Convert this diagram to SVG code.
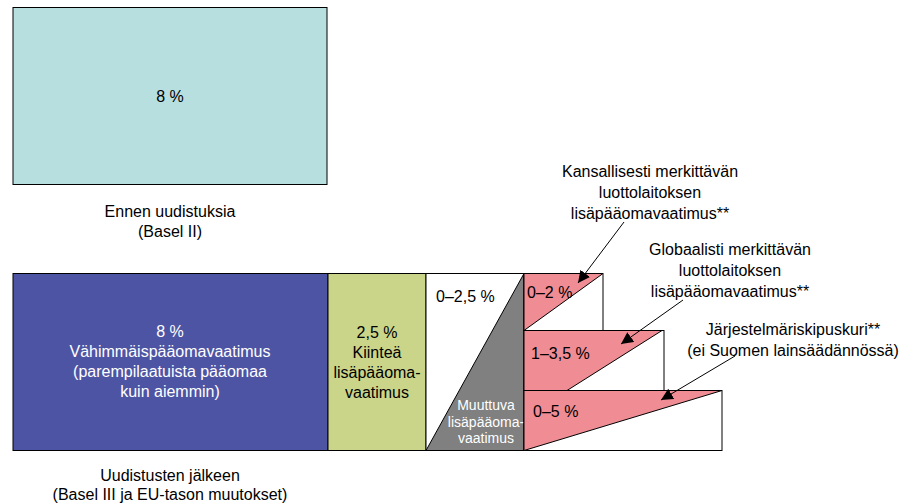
<svg xmlns="http://www.w3.org/2000/svg" width="904" height="504" viewBox="0 0 904 504">
<style>
text{font-family:"Liberation Sans",Arial,sans-serif;font-size:16px;fill:#000;text-anchor:middle}
.w{fill:#fff}
.s{font-size:14px}
.l{text-anchor:start}
.b{stroke:#000;stroke-width:1}
</style>
<defs>
<marker id="ah" viewBox="0 0 10 10" refX="10" refY="5" markerWidth="12" markerHeight="12" markerUnits="userSpaceOnUse" orient="auto">
<path d="M0,0 L10,5 L0,10 z" fill="#000"/>
</marker>
</defs>
<rect width="904" height="504" fill="#fff"/>
<g id="basel2">
<rect class="b" x="13" y="7.5" width="314" height="177" fill="#B8DFE0"/>
<text x="170" y="102">8 %</text>
<text x="170" y="217">Ennen uudistuksia</text>
<text x="170" y="237">(Basel II)</text>
</g>
<g id="min">
<rect class="b" x="13" y="273.5" width="315" height="177" fill="#4E54A4"/>
<text class="w" x="170" y="337">8 %</text>
<text class="w" x="170" y="357">Vähimmäispääomavaatimus</text>
<text class="w" x="170" y="377">(parempilaatuista pääomaa</text>
<text class="w" x="170" y="397">kuin aiemmin)</text>
</g>
<g id="fixed">
<rect class="b" x="328" y="273.5" width="98" height="177" fill="#CAD58A"/>
<text x="377" y="338">2,5 %</text>
<text x="377" y="358">Kiinteä</text>
<text x="377" y="378">lisäpääoma-</text>
<text x="377" y="398">vaatimus</text>
</g>
<g id="variable">
<rect class="b" x="426" y="273.5" width="98" height="177" fill="#fff"/>
<polygon class="b" points="426,450.5 524,273.5 524,450.5" fill="#808080"/>
<text class="l" x="436" y="302">0–2,5 %</text>
<text class="w s" x="486" y="410">Muuttuva</text>
<text class="w s" x="486" y="427">lisäpääoma-</text>
<text class="w s" x="486" y="443">vaatimus</text>
</g>
<g id="step1">
<rect class="b" x="524" y="273.5" width="79" height="57" fill="#fff"/>
<polygon class="b" points="524,273.5 603,273.5 524,330.5" fill="#F08C94"/>
<text class="l" x="527" y="298">0–2 %</text>
</g>
<g id="step2">
<rect class="b" x="524" y="330.5" width="140" height="60" fill="#fff"/>
<polygon class="b" points="524,330.5 662,330.5 567,390.5 524,390.5" fill="#F08C94"/>
<text class="l" x="531" y="359">1–3,5 %</text>
</g>
<g id="step3">
<rect class="b" x="524" y="390.5" width="198" height="60" fill="#fff"/>
<polygon class="b" points="524,390.5 722,390.5 524,450.5" fill="#F08C94"/>
<text class="l" x="533" y="417">0–5 %</text>
</g>
<g id="label-national">
<text x="650" y="177">Kansallisesti merkittävän</text>
<text x="650" y="198">luottolaitoksen</text>
<text x="650" y="219">lisäpääomavaatimus**</text>
</g>
<g id="label-global">
<text x="730" y="255">Globaalisti merkittävän</text>
<text x="730" y="276">luottolaitoksen</text>
<text x="730" y="297">lisäpääomavaatimus**</text>
</g>
<g id="label-systemic">
<text x="793" y="335">Järjestelmäriskipuskuri**</text>
<text x="793" y="356">(ei Suomen lainsäädännössä)</text>
</g>
<g id="after">
<text x="170" y="481">Uudistusten jälkeen</text>
<text x="170" y="500">(Basel III ja EU-tason muutokset)</text>
</g>
<g id="connectors" stroke="#000" stroke-width="1" fill="none">
<line x1="624" y1="222" x2="578" y2="283" marker-end="url(#ah)"/>
<line x1="683" y1="300" x2="621" y2="344" marker-end="url(#ah)"/>
<line x1="735" y1="356" x2="661" y2="400" marker-end="url(#ah)"/>
</g>
</svg>
